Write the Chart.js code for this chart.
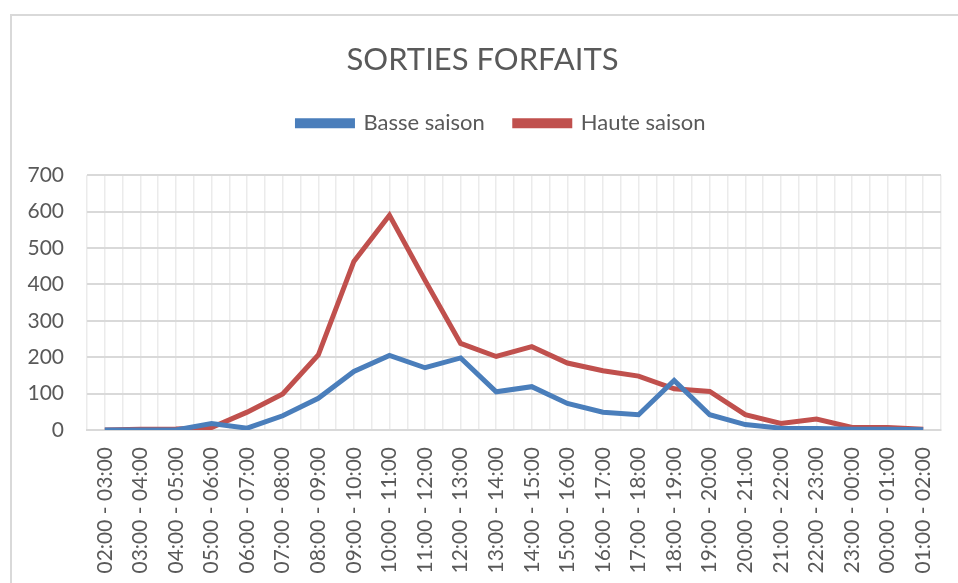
<!DOCTYPE html>
<html>
<head>
<meta charset="utf-8">
<script src="https://cdn.jsdelivr.net/npm/chart.js@4"></script>
<style>
  html, body { margin: 0; padding: 0; background: #fff; }
  #frame { position: absolute; left: 10px; top: 14px; width: 980px; height: 600px; border: 2px solid #d9d9d9; box-sizing: border-box; }
  #wrap { position: absolute; left: 0; top: 0; width: 958px; height: 583px; }
</style>
</head>
<body>
<div id="frame"></div>
<div id="wrap"><canvas id="chart"></canvas></div>
<script>
const hours = ["02:00 - 03:00", "03:00 - 04:00", "04:00 - 05:00", "05:00 - 06:00", "06:00 - 07:00", "07:00 - 08:00",
  "08:00 - 09:00", "09:00 - 10:00", "10:00 - 11:00", "11:00 - 12:00", "12:00 - 13:00", "13:00 - 14:00",
  "14:00 - 15:00", "15:00 - 16:00", "16:00 - 17:00", "17:00 - 18:00", "18:00 - 19:00", "19:00 - 20:00",
  "20:00 - 21:00", "21:00 - 22:00", "22:00 - 23:00", "23:00 - 00:00", "00:00 - 01:00", "01:00 - 02:00"]
const basse = [0, 0, 0, 18, 5, 39, 87, 161, 205, 171, 198, 105, 119, 73, 49, 42, 136, 42, 15, 5, 4, 2, 2, 1]
const haute = [0, 2, 3, 7, 49, 99, 206, 463, 590, 411, 238, 202, 229, 184, 163, 148, 113, 106, 42, 18, 30, 7, 7, 2]
const yTicks = [0, 100, 200, 300, 400, 500, 600, 700]

const txt = '#595959'
const font = "Lato, 'Open Sans', sans-serif"

// leave more room under the legend and nudge it right, like the Excel original
const legendGap = {
  id: 'legendGap',
  beforeInit(chart) {
    const fit = chart.legend.fit
    chart.legend.fit = function () {
      fit.bind(chart.legend)()
      this.height += 31
    }
  },
  afterLayout(chart) {
    chart.legend.left += 19
    chart.legend.right += 19
  }
}

const ctx = document.getElementById('chart')
new Chart(ctx, {
  type: 'line',
  data: {
    labels: hours,
    datasets: [{
      label: 'Basse saison',
      data: basse,
      borderColor: '#4a7ebb',
      backgroundColor: '#4a7ebb',
      borderWidth: 5,
      pointRadius: 0,
      tension: 0
    }, {
      label: 'Haute saison',
      data: haute,
      borderColor: '#c0504d',
      backgroundColor: '#c0504d',
      borderWidth: 5,
      pointRadius: 0,
      tension: 0
    }]
  },
  plugins: [legendGap],
  options: {
    responsive: true,
    maintainAspectRatio: false,
    animation: false,
    layout: { padding: { left: 24, right: 17, top: 0, bottom: 0 } },
    plugins: {
      title: {
        display: true,
        text: 'SORTIES FORFAITS',
        color: txt,
        font: { family: font, size: 31, weight: 'normal' },
        padding: { top: 41, bottom: 4 }
      },
      legend: {
        labels: {
          color: txt,
          font: { family: font, size: 22 },
          boxWidth: 55,
          boxHeight: 5,
          padding: 30
        }
      },
      tooltip: { enabled: false }
    },
    scales: {
      x: {
        offset: true,
        grid: { offset: true, color: '#ebebeb', lineWidth: 1.5, drawTicks: false },
        border: { color: '#d9d9d9', width: 2 },
        ticks: { color: txt, font: { family: font, size: 21 }, minRotation: 90, maxRotation: 90, autoSkip: false, padding: 17 },
        afterFit: s => { s.height = 153; s.paddingLeft = 0; s.paddingRight = 0 }
      },
      x2: {
        type: 'category',
        labels: hours,
        position: 'bottom',
        offset: true,
        grid: { offset: false, color: '#ebebeb', lineWidth: 1.5, drawTicks: false },
        border: { display: false },
        ticks: { display: false },
        afterFit: s => { s.height = 0; s.paddingLeft = 0; s.paddingRight = 0 }
      },
      y: {
        min: 0,
        max: 700,
        afterBuildTicks: s => { s.ticks = yTicks.map(v => ({ value: v })) },
        grid: { color: '#d9d9d9', lineWidth: 2, drawTicks: false },
        border: { display: false },
        ticks: { color: txt, font: { family: font, size: 21 }, padding: 23 },
        afterFit: s => { s.width = 63 }
      }
    }
  }
})
</script>
</body>
</html>
